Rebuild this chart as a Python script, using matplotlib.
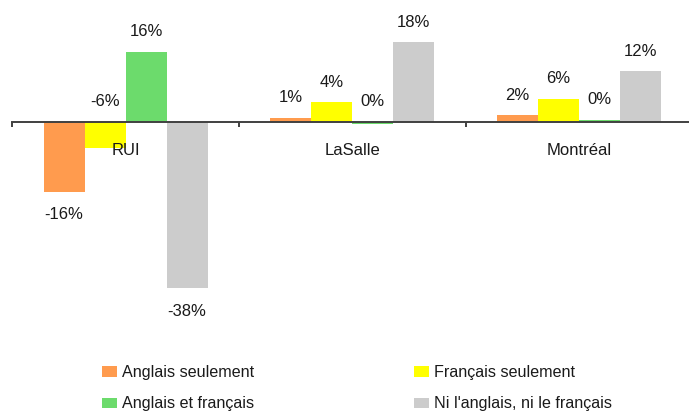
import matplotlib
matplotlib.use('Agg')
import matplotlib.pyplot as plt
import numpy as np
from matplotlib.patches import Patch

# ---- data ----
categories = ['RUI', 'LaSalle', 'Montréal']
series_names = ['Anglais seulement', 'Français seulement',
                'Anglais et français', "Ni l'anglais, ni le français"]
anglais_seulement = [-16, 0.9, 1.5]
francais_seulement = [-6, 4.5, 5.3]
anglais_et_francais = [16, -0.5, 0.5]
ni_anglais_ni_francais = [-38, 18.2, 11.6]
labels_anglais = ['-16%', '1%', '2%']
labels_francais = ['-6%', '4%', '6%']
labels_deux = ['16%', '0%', '0%']
labels_ni = ['-38%', '18%', '12%']

colors = ['#FF9B4E', '#FFFF00', '#6CDB6C', '#CCCCCC']
text_color = '#1a1a1a'
axis_color = '#404040'

plt.rcParams['font.family'] = ['Liberation Sans', 'DejaVu Sans']

W, H = 689, 412
fig = plt.figure(figsize=(W / 100, H / 100), dpi=100)
ax = fig.add_axes([12.3 / W, 1 - 330 / H, 680 / W, 330 / H])

x = np.arange(len(categories))
bw = 0.181
all_vals = [anglais_seulement, francais_seulement, anglais_et_francais, ni_anglais_ni_francais]
all_labels = [labels_anglais, labels_francais, labels_deux, labels_ni]

handles = []
for i, (vals, labs, col) in enumerate(zip(all_vals, all_labels, colors)):
    xs = x + (i - 1.5) * bw
    ax.bar(xs, vals, bw, color=col, linewidth=0, zorder=1)
    handles.append(Patch(facecolor=col, edgecolor='none'))
    for xi, v, lab in zip(xs, vals, labs):
        if v >= 0 or abs(v) < 10:
            ax.annotate(lab, (xi, max(v, 0)), xytext=(0, 14.5), textcoords='offset points',
                        ha='center', va='center', fontsize=12, color=text_color)
        else:
            ax.annotate(lab, (xi, v), xytext=(0, -16.5), textcoords='offset points',
                        ha='center', va='center', fontsize=12, color=text_color)

ax.set_xlim(-0.5, 2.5)
ax.set_ylim(-47.49, 27.85)
for s in ['left', 'right', 'top']:
    ax.spines[s].set_visible(False)
ax.spines['bottom'].set_position(('data', 0))
ax.spines['bottom'].set_color(axis_color)
ax.spines['bottom'].set_linewidth(1.4)
ax.spines['bottom'].set_zorder(3)
ax.set_yticks([])
ax.set_xticks(x, categories)
ax.tick_params(axis='x', which='major', length=0, pad=15, labelsize=12, labelcolor=text_color)
ax.set_xticks([-0.5, 0.5, 1.5, 2.5], minor=True)
ax.tick_params(axis='x', which='minor', length=3.6, width=1.4, color=axis_color, direction='out')
ax.patch.set_alpha(0)

leg_kw = dict(loc='upper left', frameon=False, fontsize=11.6, handlelength=0.93,
              handleheight=0.62, handletextpad=0.28, labelspacing=1.02,
              borderpad=0, borderaxespad=0, labelcolor=text_color)
fig.legend([handles[0], handles[2]], [series_names[0], series_names[2]],
           bbox_to_anchor=(102.3 / W, 1 - 365 / H), **leg_kw)
fig.legend([handles[1], handles[3]], [series_names[1], series_names[3]],
           bbox_to_anchor=(414.3 / W, 1 - 365 / H), **leg_kw)

fig.savefig('out.png', dpi=100)
